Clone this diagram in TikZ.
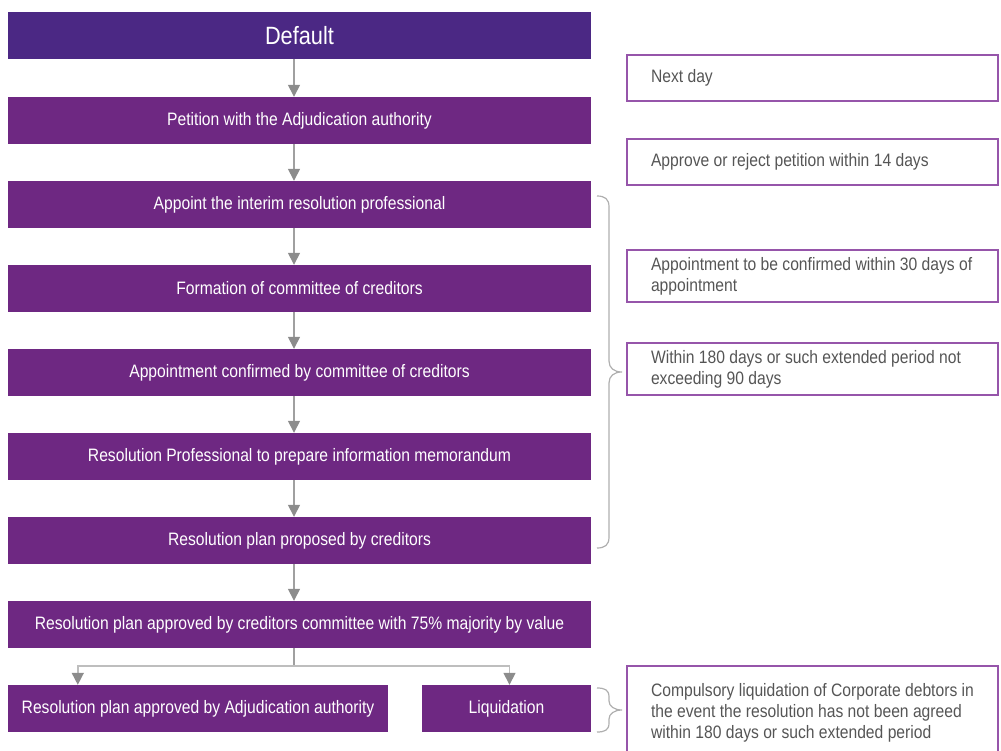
\documentclass[tikz,border=0pt]{standalone}
\usepackage{fontspec}
\setmainfont{Liberation Sans}[FakeStretch=0.87]
\usetikzlibrary{arrows.meta,calc}

\definecolor{headpurple}{RGB}{75,40,132}
\definecolor{boxpurple}{RGB}{110,40,130}
\definecolor{notepurple}{RGB}{150,85,170}
\definecolor{notetext}{RGB}{85,85,85}
\definecolor{linegray}{RGB}{160,160,160}
\definecolor{tipgray}{RGB}{140,140,140}
\definecolor{splitgray}{RGB}{190,190,190}
\definecolor{bracegray}{RGB}{175,175,175}

\tikzset{
  stage/.style={fill=boxpurple, text=white, minimum width=583, minimum height=47,
    inner sep=0pt, font=\fontsize{18}{21}\selectfont},
  note/.style={draw=notepurple, line width=1.2pt, text=notetext, minimum width=371,
    minimum height=46, text width=323, inner xsep=24pt, inner ysep=0pt, align=flush left,
    font=\fontsize{18}{21}\selectfont},
  conn/.style={draw=linegray, line width=1.5pt},
  arr/.style={conn, -{Triangle[width=12pt,length=12pt,color=tipgray]}},
  bracket/.style={draw=bracegray, line width=1.2pt}
}

\begin{document}
\begin{tikzpicture}[x=1pt,y=-1pt]
\useasboundingbox (0,0) rectangle (1001,751);

% flow of stages
\node[stage, fill=headpurple, font=\fontsize{25}{28}\selectfont] (default) at (299.5,35.5) {Default};
\node[stage] (petition) at (299.5,120.5) {Petition with the Adjudication authority};
\node[stage] (interim) at (299.5,204.5) {Appoint the interim resolution professional};
\node[stage] (committee) at (299.5,288.5) {Formation of committee of creditors};
\node[stage] (confirmed) at (299.5,372.5) {Appointment confirmed by committee of creditors};
\node[stage] (memo) at (299.5,456.5) {Resolution Professional to prepare information memorandum};
\node[stage] (proposed) at (299.5,540.5) {Resolution plan proposed by creditors};
\node[stage] (approved) at (299.5,624.5) {Resolution plan approved by creditors committee with 75\% majority by value};
\node[stage, minimum width=380] (adjapproved) at (198,708.5) {Resolution plan approved by Adjudication authority};
\node[stage, minimum width=169] (liquidation) at (506.5,708.5) {Liquidation};

\foreach \a/\b in {default/petition, petition/interim, interim/committee,
    committee/confirmed, confirmed/memo, memo/proposed, proposed/approved}
  \draw[arr] ([xshift=-5.5pt]\a.south) -- ([xshift=-5.5pt]\b.north);

\coordinate (split) at ($(approved.south)+(-5.5,18)$);
\draw[conn] ([xshift=-5.5pt]approved.south) -- (split);
\draw[arr, draw=splitgray] (split) -| ([xshift=70pt]adjapproved.north west);
\draw[arr, draw=splitgray] (split) -| ([xshift=3pt]liquidation.north);

% time limits
\node[note] (nextday) at (812.5,78) {Next day};
\node[note] (fourteen) at (812.5,162) {Approve or reject petition within 14 days};
\node[note, minimum height=52] (thirty) at (812.5,276) {Appointment to be confirmed within 30 days of\\appointment};
\node[note, minimum height=52] (oneeighty) at (812.5,369) {Within 180 days or such extended period not\\exceeding 90 days};
\node[note, minimum height=94] (compulsory) at (812.5,713) {Compulsory liquidation of Corporate debtors in\\the event the resolution has not been agreed\\within 180 days or such extended period};

% braces
\draw[bracket] (597,196) .. controls (605,196) and (609,199) .. (609,207) -- (609,361)
  .. controls (609,368) and (614,372) .. (622,372)
  .. controls (614,372) and (609,376) .. (609,383) -- (609,537)
  .. controls (609,545) and (605,548) .. (597,548);
\draw[bracket] (597,688) .. controls (605,688) and (609,690) .. (609,697) -- (609,701)
  .. controls (609,706) and (614,710) .. (622,710)
  .. controls (614,710) and (609,714) .. (609,719) -- (609,723)
  .. controls (609,730) and (605,732) .. (597,732);
\end{tikzpicture}
\end{document}
